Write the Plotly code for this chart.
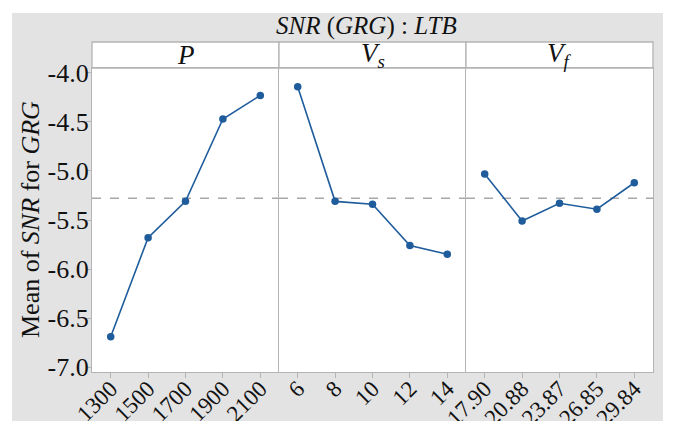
import plotly.graph_objects as go
from plotly.subplots import make_subplots

# Main-effects data: mean SNR of GRG for each factor level
p_levels = ["1300", "1500", "1700", "1900", "2100"]
p_snr = [-6.69, -5.68, -5.31, -4.47, -4.23]

vs_levels = ["6", "8", "10", "12", "14"]
vs_snr = [-4.14, -5.31, -5.34, -5.76, -5.85]

vf_levels = ["17.90", "20.88", "23.87", "26.85", "29.84"]
vf_snr = [-5.03, -5.51, -5.33, -5.39, -5.12]

panel_titles = ["<i>P</i>", "<i>V<sub>s</sub></i>", "<i>V<sub>f</sub></i>"]
y_ticks = [-4.0, -4.5, -5.0, -5.5, -6.0, -6.5, -7.0]

all_vals = p_snr + vs_snr + vf_snr
grand_mean = sum(all_vals) / len(all_vals)

W, H = 673, 421
L, R, T, B = 92, 20, 68, 49
pw, ph = W - L - R, H - T - B

def px(x):
    return (x - L) / pw

def py(y):
    return (H - B - y) / ph

FONT = "Liberation Serif"
LINE = "#1f5c9c"
BORDER = "#b4b4b4"
GREY = "#e3e3e3"

fig = make_subplots(rows=1, cols=3, shared_yaxes=False, horizontal_spacing=0)

panels = [(p_levels, p_snr), (vs_levels, vs_snr), (vf_levels, vf_snr)]
for i, (lv, vals) in enumerate(panels, start=1):
    fig.add_trace(go.Scatter(x=lv, y=vals, mode="lines+markers",
                             line=dict(color=LINE, width=1.6),
                             marker=dict(color=LINE, size=7.5),
                             showlegend=False), row=1, col=i)
    fig.add_shape(type="line", xref=f"x{'' if i == 1 else i} domain",
                  yref=f"y{'' if i == 1 else i}", x0=0, x1=1,
                  y0=grand_mean, y1=grand_mean, layer="below",
                  line=dict(color="#a8a8a8", width=1.5, dash="dash"))

for i in range(1, 4):
    fig.update_xaxes(type="category", range=[-0.5, 4.5], tickangle=-45,
                     automargin=False, ticklabelstandoff=-12,
                     showline=True, mirror=True, linecolor=BORDER, linewidth=1.3,
                     ticks="outside", ticklen=5, tickcolor=BORDER,
                     showgrid=False, zeroline=False,
                     tickfont=dict(family=FONT, size=23, color="#111"),
                     row=1, col=i)
    # panel separators: each panel draws only its left edge, the last one both
    fig.update_yaxes(range=[-7.05, -3.95], tickvals=y_ticks,
                     ticktext=[f"{v:.1f}" for v in y_ticks],
                     automargin=False, ticklabelstandoff=-8,
                     showline=True, mirror=(i == 3), linecolor=BORDER, linewidth=1.3,
                     showgrid=False, zeroline=False,
                     ticks="outside" if i == 1 else "", ticklen=5, tickcolor=BORDER,
                     showticklabels=(i == 1),
                     tickfont=dict(family=FONT, size=26, color="#111"),
                     row=1, col=i)

# white page edges around the grey frame
for x0, x1, y0, y1 in [(0, 12, 0, 421), (663, 673, 0, 421), (0, 673, 0, 13)]:
    fig.add_shape(type="rect", xref="paper", yref="paper",
                  x0=px(x0), x1=px(x1), y0=py(y1), y1=py(y0),
                  fillcolor="white", line=dict(width=0), layer="below")

# facet strips
doms = [(0, 1 / 3), (1 / 3, 2 / 3), (2 / 3, 1)]
for (d0, d1), ttl in zip(doms, panel_titles):
    fig.add_shape(type="rect", xref="paper", yref="paper",
                  x0=d0, x1=d1, y0=1, y1=py(42),
                  fillcolor="white", line=dict(color=BORDER, width=1.3), layer="below")
    fig.add_annotation(xref="paper", yref="paper", x=(d0 + d1) / 2, y=py(55),
                       xanchor="center", yanchor="middle",
                       text=ttl, showarrow=False,
                       font=dict(family=FONT, size=27, color="#111"))

fig.add_annotation(xref="paper", yref="paper", x=px(366), y=py(26),
                   xanchor="center", yanchor="middle",
                   text="<i>SNR</i> (<i>GRG</i>) : <i>LTB</i>", showarrow=False,
                   font=dict(family=FONT, size=25, color="#111"))

fig.add_annotation(xref="paper", yref="paper", x=px(30), y=py(220),
                   xanchor="center", yanchor="middle",
                   text="Mean of <i>SNR</i> for <i>GRG</i>", textangle=-90,
                   showarrow=False, font=dict(family=FONT, size=26, color="#111"))

fig.update_layout(width=W, height=H, margin=dict(l=L, r=R, t=T, b=B),
                  paper_bgcolor=GREY, plot_bgcolor="white")

fig.write_html("out.html")
